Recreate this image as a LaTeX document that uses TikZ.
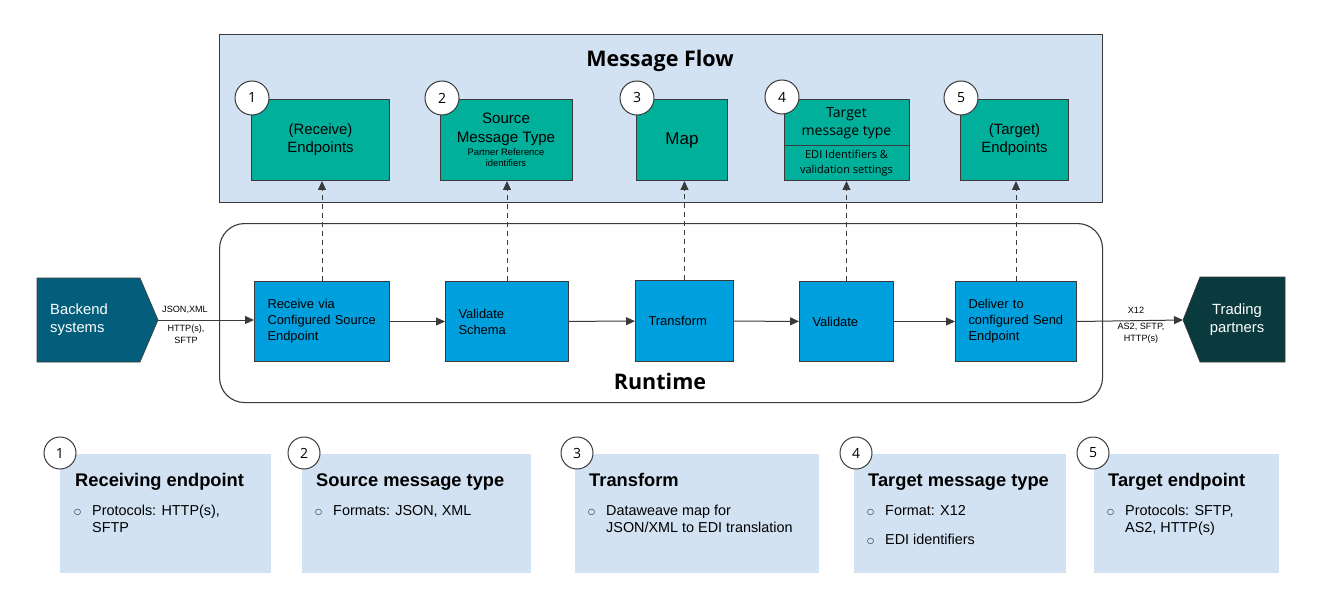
\documentclass[tikz,border=0pt]{standalone}
\usepackage{fontspec}
\setmainfont{Liberation Sans}
\newfontfamily\osf{Open Sans}
\newfontfamily\djv{DejaVu Sans}
\usetikzlibrary{arrows.meta}
\definecolor{panel}{HTML}{D2E2F3}
\definecolor{edgec}{HTML}{3A3A3A}
\definecolor{tealc}{HTML}{00B09B}
\definecolor{bluec}{HTML}{00A0DF}
\definecolor{backc}{HTML}{035E7B}
\definecolor{tradc}{HTML}{0B3A3E}
\tikzset{
  frame/.style={draw=edgec, line width=1.1pt, anchor=north west, inner sep=0pt},
  topbox/.style={draw=edgec, fill=tealc, line width=1pt, anchor=north west, inner sep=0pt, align=center, font=\fontsize{14.9}{18}\selectfont},
  runbox/.style={draw=edgec, fill=bluec, line width=1pt, anchor=north west, inner xsep=13pt, inner ysep=0pt, align=left, font=\fontsize{12.9}{16}\selectfont},
  numc/.style={circle, draw=edgec, fill=white, line width=1pt, minimum size=#1, inner sep=0pt, font=\osf\fontsize{14}{14}\selectfont},
  numc/.default=34pt,
  card/.style={fill=panel, anchor=north west, inner sep=0pt},
  cardtitle/.style={anchor=base west, inner sep=0pt, font=\bfseries\fontsize{18.3}{20}\selectfont},
  carditem/.style={anchor=base west, inner sep=0pt, font=\fontsize{14.4}{17}\selectfont},
  bul/.style={anchor=base west, inner sep=0pt, font=\djv\fontsize{8}{10}\selectfont},
  flow/.style={draw=edgec, line width=1pt, -{Triangle[length=9pt,width=8pt]}},
  dflow/.style={draw=edgec, line width=1pt, dashed, dash pattern=on 5pt off 4pt, -{Triangle[length=9pt,width=8pt]}},
  small/.style={inner sep=0pt, align=center, font=\fontsize{9.1}{12}\selectfont},
}
\begin{document}
\begin{tikzpicture}[x=1pt,y=-1pt]
\useasboundingbox[fill=white] (0,0) rectangle (1322,604);

% Message Flow panel
\node[frame, fill=panel, minimum width=883pt, minimum height=168pt] (mf) at (219,34) {};
\node[font=\osf\bfseries\fontsize{21.5}{24}\selectfont] (mft) at (660,61) {Message Flow};

% Runtime panel
\node[frame, rounded corners=25pt, minimum width=883pt, minimum height=179pt] (rt) at (219,223) {};
\node[font=\osf\bfseries\fontsize{21.5}{24}\selectfont] (rtt) at (660,381) {Runtime};

% top boxes
\node[topbox, minimum width=138pt, minimum height=81pt] (t1) at (251,99) {(Receive)\\Endpoints};
\node[topbox, minimum width=132pt, minimum height=81pt] (t2) at (440,99) {};
\node[align=center, inner sep=0pt, font=\fontsize{15.1}{19}\selectfont] (t2a) at (506,129) {Source\\Message Type};
\node[small, font=\fontsize{9.4}{11}\selectfont] (t2b) at (506,158) {Partner Reference\\identifiers};
\node[topbox, minimum width=91pt, minimum height=81pt, font=\fontsize{17}{20}\selectfont] (t3) at (636,99) {Map};
\node[topbox, minimum width=125pt, minimum height=81pt] (t4) at (784,99) {};
\draw[edgec, line width=1pt] (784,146) -- (909,146);
\node[align=center, inner sep=0pt, font=\osf\fontsize{14}{18}\selectfont] (t4a) at (846.5,123) {Target\\message type};
\node[align=center, inner sep=0pt, font=\osf\fontsize{11}{15}\selectfont] (t4b) at (846.5,163) {EDI Identifiers \&\\validation settings};
\node[topbox, minimum width=108pt, minimum height=81pt] (t5) at (960,99) {(Target)\\Endpoints};

\node[numc] (n1) at (252,98) {1};
\node[numc] (n2) at (442,98) {2};
\node[numc] (n3) at (637,98) {3};
\node[numc] (n4) at (782,97) {4};
\node[numc] (n5) at (961,98) {5};

% runtime boxes
\node[runbox, minimum width=135pt, minimum height=80pt, text width=109pt] (r1) at (254,281) {Receive via\\Configured Source\\Endpoint};
\node[runbox, minimum width=123pt, minimum height=80pt, text width=97pt] (r2) at (445,281) {Validate\\Schema};
\node[runbox, minimum width=98pt, minimum height=81pt, text width=72pt] (r3) at (635,280) {Transform};
\node[runbox, minimum width=94pt, minimum height=80pt, text width=68pt] (r4) at (799,281) {Validate};
\node[runbox, minimum width=121pt, minimum height=80pt, text width=95pt] (r5) at (955,281) {Deliver to\\configured Send\\Endpoint};

\draw[flow] (r1) -- (r2);
\draw[flow] (r2) -- (r3);
\draw[flow] (r3) -- (r4);
\draw[flow] (r4) -- (r5);

\draw[dflow] (r1.north) -- (r1.north |- t1.south);
\draw[dflow] (r2.north) -- (r2.north |- t2.south);
\draw[dflow] (r3.north) -- (r3.north |- t3.south);
\draw[dflow] (r4.north) -- (r4.north |- t4.south);
\draw[dflow] (r5.north) -- (r5.north |- t5.south);

% backend systems
\fill[backc] (37,278) -- (140,278) -- (158,320) -- (140,362) -- (37,362) -- cycle;
\draw[edgec, line width=0.6pt] (37,278) -- (140,278) -- (158,320) -- (140,362) -- (37,362) -- cycle;
\coordinate (btip) at (158,320);
\node[anchor=west, align=left, text=white, inner sep=0pt, font=\fontsize{14.8}{18}\selectfont] (back) at (50,320) {Backend\\systems};
\draw[flow] (btip) -- (btip -| r1.west);
\node[small] (l1) at (185,310) {JSON,XML};
\node[small] (l2) at (186,334) {HTTP(s),\\SFTP};

% trading partners
\fill[tradc] (1200,277) -- (1285,277) -- (1285,362) -- (1200,362) -- (1183,320) -- cycle;
\draw[edgec, line width=0.6pt] (1200,277) -- (1285,277) -- (1285,362) -- (1200,362) -- (1183,320) -- cycle;
\coordinate (ttip) at (1183,320);
\node[align=center, text=white, inner sep=0pt, font=\fontsize{14.8}{18}\selectfont] (trade) at (1237,320) {Trading\\partners};
\draw[flow] (r5.east) -- (ttip);
\node[small] (l3) at (1136,310) {X12};
\node[small] (l4) at (1141,333) {AS2, SFTP,\\HTTP(s)};

% bottom cards
\node[card, minimum width=211pt, minimum height=119pt] (c1) at (60,454) {};
\node[card, minimum width=229pt, minimum height=119pt] (c2) at (302,454) {};
\node[card, minimum width=244pt, minimum height=119pt] (c3) at (575,454) {};
\node[card, minimum width=212pt, minimum height=119pt] (c4) at (854,454) {};
\node[card, minimum width=185pt, minimum height=119pt] (c5) at (1094,454) {};

\node[numc=32pt] (m1) at (60,453) {1};
\node[numc=32pt] (m2) at (304,453) {2};
\node[numc=32pt] (m3) at (577,453) {3};
\node[numc=32pt] (m4) at (856,453) {4};
\node[numc=32pt] (m5) at (1093,453) {5};

\node[cardtitle] (h1) at (75,486) {Receiving endpoint};
\node[bul] (b1) at (74,514) {○};
\node[carditem] (i1) at (92,515) {Protocols: HTTP(s),};
\node[carditem] (i1b) at (92,532) {SFTP};

\node[cardtitle] (h2) at (316,486) {Source message type};
\node[bul] (b2) at (315,514) {○};
\node[carditem] (i2) at (333,515) {Formats: JSON, XML};

\node[cardtitle] (h3) at (589,486) {Transform};
\node[bul] (b3) at (588,514) {○};
\node[carditem] (i3) at (606,515) {Dataweave map for};
\node[carditem] (i3b) at (606,532) {JSON/XML to EDI translation};

\node[cardtitle] (h4) at (868,486) {Target message type};
\node[bul] (b4) at (867,514) {○};
\node[carditem] (i4) at (885,515) {Format: X12};
\node[bul] (b4b) at (867,543) {○};
\node[carditem] (i4b) at (885,544) {EDI identifiers};

\node[cardtitle] (h5) at (1108,486) {Target endpoint};
\node[bul] (b5) at (1107,514) {○};
\node[carditem] (i5) at (1125,515) {Protocols: SFTP,};
\node[carditem] (i5b) at (1125,532) {AS2, HTTP(s)};
\end{tikzpicture}
\end{document}
